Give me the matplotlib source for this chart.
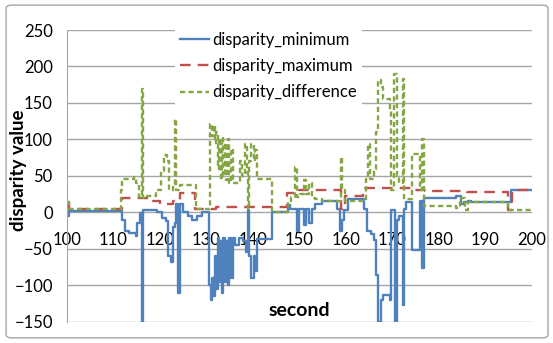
import matplotlib
matplotlib.use('Agg')
import matplotlib.pyplot as plt
from matplotlib.patches import FancyBboxPatch

plt.rcParams['font.family'] = ['Lato', 'DejaVu Sans']

# breakpoints (time in s, value); drawn as steps
t_min = [100.0, 100.5, 112.0, 112.6, 113.5, 114.8, 115.2, 115.7, 116.2, 116.5,
         119.5, 120.5, 121.3, 121.8, 122.4, 122.8, 123.3, 123.6, 124.0, 124.3,
         125.0, 126.0, 127.0, 128.0, 129.0, 130.5, 131.0, 131.3, 131.6, 131.9,
         132.2, 132.5, 132.8, 133.1, 133.4, 133.7, 134.0, 134.3, 134.7, 135.0,
         135.4, 135.8, 136.3, 137.0, 138.0, 138.6, 139.0, 139.3, 139.7, 140.2,
         140.5, 141.0, 144.2, 147.5, 148.0, 149.6, 150.0, 151.0, 151.4, 152.2,
         152.8, 153.5, 155.0, 158.2, 158.8, 159.3, 159.6, 160.5, 164.0, 164.5,
         165.4, 166.0, 166.5, 166.9, 167.5, 168.0, 169.5, 169.8, 170.5, 171.0,
         171.5, 172.3, 172.6, 173.0, 174.3, 176.0, 176.4, 176.8, 183.7, 184.7,
         185.5, 186.2, 187.0, 195.6, 200.0]
v_min = [-5, 2, -10, -25, -28, -33, -15, -1, -150, 3,
         0, -8, -12, -60, -68, -20, -15, 12, -110, 12,
         0, -5, -10, -5, 0, -100, -120, -90, -115, -60,
         -105, -35, -95, -40, -110, -35, -95, -40, -100, -35,
         -90, -35, -45, -35, -40, -55, 3, -60, -90, -60,
         -80, -36, 0, 10, 4, -25, 4, -17, 4, -15,
         4, 12, 15, 5, -25, -10, 3, 18, 5, -25,
         -30, -38, -86, -150, -120, -113, -120, 3, -150, -10,
         -5, -127, 5, 14, -52, 15, -77, 20, 23, 12,
         14, 16, 14, 31, 30]

t_max = [100.0, 100.5, 111.8, 117.2, 120.1, 122.9, 124.4, 127.6, 132.2, 147.4,
         150.0, 158.9, 159.9, 163.8, 174.5, 177.0, 186.0, 194.8, 195.7, 200.0]
v_max = [14, 5, 19, 16, 12, 15, 27, 5, 7, 27,
         30, 5, 23, 33, 30, 29, 28, 3, 31, 32]

t_diff = [100.0, 100.5, 111.6, 112.0, 114.5, 115.0, 115.5, 116.2, 116.5, 117.0,
          119.3, 120.2, 120.9, 121.5, 122.0, 122.8, 123.3, 123.6, 124.4, 127.8,
          130.8, 131.3, 131.6, 131.9, 132.2, 132.5, 132.8, 133.1, 133.4, 133.7,
          134.0, 134.3, 134.7, 135.0, 135.4, 135.8, 137.3, 137.8, 138.3, 138.8,
          139.0, 139.3, 139.7, 140.2, 140.5, 141.0, 144.2, 147.5, 148.3, 149.2,
          149.5, 150.2, 151.0, 151.4, 152.2, 152.8, 153.5, 155.0, 158.9, 159.3,
          159.9, 164.3, 164.8, 165.2, 166.0, 166.5, 167.0, 167.5, 168.0, 169.5,
          169.8, 170.4, 171.0, 171.5, 172.3, 172.6, 173.0, 174.3, 176.0, 176.4,
          176.8, 183.7, 184.5, 185.7, 186.3, 194.8, 200.0]
v_diff = [14, 5, 30, 46, 48, 40, 21, 169, 19, 23,
          30, 57, 78, 70, 30, 35, 128, 30, 37, 5,
          121, 105, 120, 95, 110, 60, 100, 45, 103, 50,
          95, 45, 100, 40, 87, 40, 71, 50, 94, 55,
          4, 70, 94, 70, 85, 46, 0, 16, 21, 62,
          21, 25, 44, 25, 40, 20, 18, 16, 76, 30,
          16, 46, 94, 46, 60, 110, 182, 172, 155, 140,
          30, 190, 50, 40, 183, 20, 18, 80, 30, 101,
          9, 6, 19, 3, 14, 3, 3]

y_ticks = [-150, -100, -50, 0, 50, 100, 150, 200, 250]
x_ticks = [100, 110, 120, 130, 140, 150, 160, 170, 180, 190, 200]

fig = plt.figure(figsize=(5.53, 3.43), dpi=100)
ax = fig.add_axes([0.1206, 0.0621, 0.8409, 0.8504])

ax.plot(t_min, v_min, color='#4F81BD', lw=1.7, drawstyle='steps-post',
        label='disparity_minimum')
ax.plot(t_max, v_max, color='#C0504D', lw=1.7, drawstyle='steps-post',
        dashes=(4.5, 3), label='disparity_maximum')
ax.plot(t_diff, v_diff, color='#86A545', lw=1.7, drawstyle='steps-post',
        dashes=(2.2, 1.4), label='disparity_difference')

ax.set_xlim(100, 200)
ax.set_ylim(-150, 250)
ax.set_yticks(y_ticks)
ax.set_xticks(x_ticks)
ax.yaxis.grid(True, color='#a6a6a6', lw=1)
ax.set_axisbelow(True)

for s in ['top', 'right']:
    ax.spines[s].set_visible(False)
ax.spines['left'].set_color('#a6a6a6')
ax.spines['bottom'].set_position(('data', 0))
ax.spines['bottom'].set_visible(False)
ax.tick_params(axis='both', length=0, labelsize=12)
ax.tick_params(axis='x', pad=14)
ax.tick_params(axis='y', pad=10)

ax.set_ylabel('disparity value', fontsize=13.5, fontweight='bold')
ax.yaxis.set_label_coords(-0.086, 0.52)
ax.text(150, -135, 'second', ha='center', va='center', fontsize=14,
        fontweight='bold')

leg = ax.legend(loc='upper left', bbox_to_anchor=(0.215, 1.04), fontsize=12,
                frameon=True, fancybox=False, framealpha=1, edgecolor='none',
                handlelength=1.75, handletextpad=0.2, labelspacing=0.62,
                borderpad=0.3)

border = FancyBboxPatch((0.011, 0.015), 0.98, 0.97, boxstyle='round,pad=0,rounding_size=0.01',
                        transform=fig.transFigure, fill=False,
                        edgecolor='#a6a6a6', lw=1)
fig.patches.append(border)

fig.savefig('out.png', dpi=100)
